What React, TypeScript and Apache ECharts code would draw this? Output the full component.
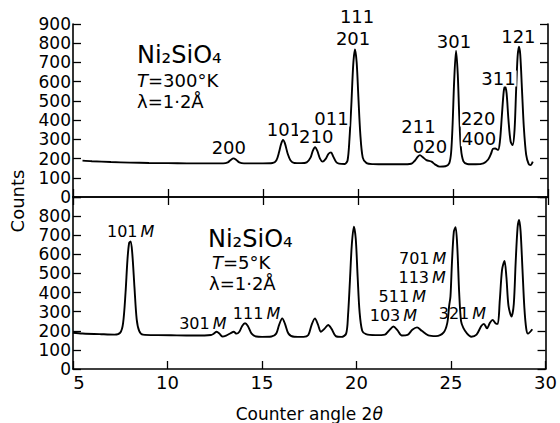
import React, { useEffect, useRef } from "react";
import * as echarts from "echarts";

// ---- data ----
const angleTicks = [5, 10, 15, 20, 25, 30];
const countTicksTop = [0, 100, 200, 300, 400, 500, 600, 700, 800, 900];

// T = 300 K scan: [2θ, counts]
const scan300K: [number, number][] = [
  [5.5, 189], [6, 186], [7, 182], [8, 179], [9, 177], [10, 176], [11, 175], [12, 175],
  [12.9, 175], [13.15, 180], [13.3, 193], [13.45, 201], [13.6, 192], [13.75, 180], [14.0, 175],
  [14.5, 175], [15, 175], [15.5, 177], [15.7, 190], [15.85, 235], [15.95, 275], [16.05, 297],
  [16.15, 280], [16.3, 225], [16.45, 190], [16.65, 177], [17.0, 176], [17.3, 180], [17.5, 205],
  [17.62, 240], [17.74, 259], [17.86, 240], [18.0, 200], [18.14, 184], [18.3, 198], [18.45, 225],
  [18.58, 232], [18.7, 210], [18.85, 182], [19.0, 174], [19.3, 172], [19.45, 190], [19.55, 300],
  [19.65, 480], [19.75, 690], [19.84, 768], [19.93, 700], [20.02, 520], [20.12, 330], [20.25, 205],
  [20.45, 176], [20.8, 171], [21.5, 170], [22.3, 170], [22.8, 173], [23.0, 190], [23.15, 210],
  [23.26, 218], [23.4, 208], [23.6, 192], [23.87, 184], [24.05, 170], [24.3, 158], [24.6, 160],
  [24.8, 175], [24.9, 230], [24.98, 380], [25.06, 600], [25.16, 761], [25.25, 640], [25.33, 420],
  [25.42, 250], [25.55, 185], [25.75, 172], [26.2, 170], [26.6, 175], [26.85, 195], [27.0, 225],
  [27.1, 250], [27.22, 252], [27.37, 245], [27.47, 290], [27.57, 420], [27.67, 550], [27.74, 577],
  [27.82, 540], [27.92, 400], [28.03, 290], [28.14, 270], [28.24, 350], [28.32, 550], [28.4, 730],
  [28.47, 782], [28.54, 740], [28.63, 560], [28.73, 360], [28.85, 220], [28.98, 172], [29.08, 166],
  [29.2, 184],
];

// T = 5 K scan: [2θ, counts]
const scan5K: [number, number][] = [
  [5.0, 190], [5.5, 186], [6.5, 182], [7.2, 180], [7.5, 190], [7.65, 240], [7.78, 400], [7.88, 570],
  [7.97, 660], [8.05, 667], [8.14, 600], [8.25, 430], [8.37, 260], [8.5, 200], [8.7, 180], [9.5, 177],
  [10.5, 176], [11.5, 175], [12.3, 178], [12.45, 185], [12.6, 195], [12.75, 185], [12.9, 170],
  [13.1, 175], [13.35, 188], [13.5, 195], [13.65, 185], [13.8, 195], [13.95, 225], [14.1, 239],
  [14.25, 225], [14.45, 185], [14.7, 170], [15.0, 168], [15.5, 170], [15.75, 185], [15.9, 230],
  [16.07, 265], [16.22, 235], [16.4, 185], [16.7, 169], [17.2, 168], [17.45, 178], [17.62, 230],
  [17.8, 265], [17.95, 235], [18.12, 195], [18.3, 210], [18.5, 230], [18.68, 210], [18.9, 172],
  [19.2, 168], [19.45, 185], [19.55, 280], [19.65, 460], [19.75, 650], [19.86, 745], [19.96, 680],
  [20.06, 480], [20.16, 300], [20.3, 200], [20.5, 182], [21.0, 177], [21.5, 180], [21.75, 205],
  [21.95, 222], [22.15, 205], [22.4, 175], [22.7, 178], [22.95, 205], [23.2, 218], [23.45, 200],
  [23.8, 176], [24.2, 172], [24.6, 190], [24.8, 240], [24.9, 330], [24.97, 380], [25.05, 560],
  [25.15, 720], [25.24, 742], [25.33, 640], [25.43, 400], [25.53, 250], [25.65, 215], [25.85, 185],
  [26.07, 169], [26.35, 180], [26.6, 225], [26.74, 236], [26.9, 213], [27.05, 240], [27.2, 257],
  [27.35, 240], [27.47, 236], [27.58, 360], [27.7, 520], [27.83, 565], [27.93, 480], [28.04, 330],
  [28.2, 274], [28.32, 340], [28.42, 560], [28.52, 740], [28.6, 780], [28.68, 720], [28.78, 520],
  [28.88, 320], [28.98, 210], [29.07, 185], [29.3, 208],
];

// reflection labels: [2θ, counts, text]
const labels300K: [number, number, string][] = [
  [13.2, 260, "200"], [16.1, 349, "101"], [17.8, 314, "210"], [18.6, 409, "011"],
  [19.74, 826, "201"], [19.95, 937, "111"], [23.18, 366, "211"], [23.79, 265, "020"],
  [25.05, 808, "301"], [26.33, 409, "220"], [26.37, 305, "400"], [27.39, 617, "311"],
  [28.44, 834, "121"],
];
const labels5K: [number, number, string][] = [
  [8.05, 719, "101"], [11.87, 239, "301"], [14.71, 292, "111"], [21.95, 280, "103"],
  [22.42, 378, "511"], [23.47, 478, "113"], [23.5, 580, "701"], [25.6, 292, "321"],
];

const FONT = "DejaVu Sans";
const INK = "#000";

export default function App() {
  const ref = useRef<HTMLDivElement>(null);
  useEffect(() => {
    document.body.style.margin = "0";
    const chart = echarts.init(ref.current!, undefined, { renderer: "svg" });
    const yMin = countTicksTop[0];
    const yMax = countTicksTop[countTicksTop.length - 1];
    const xMin = angleTicks[0];
    const xMax = angleTicks[angleTicks.length - 1];
    const axisLine = { show: true, lineStyle: { color: INK, width: 1.6 } };
    const tickIn = { show: true, inside: true, length: 8, lineStyle: { color: INK, width: 1.3 } };
    const xBase = {
      type: "value", min: xMin, max: xMax, interval: 5,
      axisLine, axisTick: tickIn, splitLine: { show: false },
    };
    const yBase = {
      type: "value", min: yMin, max: yMax, interval: 100,
      axisLine, axisTick: tickIn, splitLine: { show: false },
    };
    const yLabel = { show: true, color: INK, fontFamily: FONT, fontSize: 17, lineHeight: 16, margin: 2 };
    const labelRich = {
      n: { fontFamily: FONT, fontSize: 16, lineHeight: 15, color: INK },
      m: { fontFamily: FONT, fontSize: 16, lineHeight: 15, color: INK, fontStyle: "italic", padding: [0, 0, 0, 3] },
    };
    const itemHidden = { color: "rgba(0,0,0,0)", opacity: 1 };
    chart.setOption({
      animation: false,
      grid: [
        { left: 73, top: 24, width: 475, height: 173 },
        { left: 73, top: 197, width: 475, height: 172 },
      ],
      xAxis: [
        { ...xBase, gridIndex: 0, position: "bottom", axisLabel: { show: false } },
        { ...xBase, gridIndex: 0, position: "top", axisLabel: { show: false } },
        {
          ...xBase, gridIndex: 1, position: "bottom",
          axisLabel: {
            show: true, color: INK, fontFamily: FONT, fontSize: 18, lineHeight: 16, margin: 5,
            formatter: (v: number) => (v === xMin ? `{s|${v}}` : String(v)),
            rich: { s: { fontFamily: FONT, fontSize: 18, lineHeight: 16, color: INK, padding: [0, 0, 0, 12] } },
          },
          name: "{a|Counter angle 2}{b|θ}", nameLocation: "middle", nameGap: 36,
          nameTextStyle: {
            rich: {
              a: { fontFamily: FONT, fontSize: 17, color: INK },
              b: { fontFamily: FONT, fontSize: 17, color: INK, fontStyle: "italic" },
            },
          },
        },
      ],
      yAxis: [
        { ...yBase, gridIndex: 0, position: "left", axisLabel: yLabel },
        { ...yBase, gridIndex: 0, position: "right", axisLabel: { show: false } },
        {
          ...yBase, gridIndex: 1, position: "left",
          axisLabel: { ...yLabel, formatter: (v: number) => (v === yMax ? "" : String(v)) },
        },
        { ...yBase, gridIndex: 1, position: "right", axisLabel: { show: false } },
      ],
      series: [
        {
          type: "line", xAxisIndex: 0, yAxisIndex: 0, data: scan300K, showSymbol: false,
          smooth: 0.3, lineStyle: { color: INK, width: 1.9 }, z: 3,
        },
        {
          type: "line", xAxisIndex: 2, yAxisIndex: 2, data: scan5K, showSymbol: false,
          smooth: 0.3, lineStyle: { color: INK, width: 1.9 }, z: 3,
        },
        {
          type: "scatter", xAxisIndex: 0, yAxisIndex: 0, data: labels300K, symbolSize: 1,
          itemStyle: itemHidden, clip: false, z: 5,
          label: {
            show: true, position: "inside", color: INK, fontFamily: FONT, fontSize: 18, lineHeight: 16,
            formatter: (p: any) => p.data[2],
            backgroundColor: "#fff", padding: [0, 1],
          },
        },
        {
          type: "scatter", xAxisIndex: 2, yAxisIndex: 2, data: labels5K, symbolSize: 1,
          itemStyle: itemHidden, clip: false, z: 5,
          label: {
            show: true, position: "inside", color: INK,
            formatter: (p: any) => `{n|${p.data[2]}}{m|M}`, rich: labelRich,
          },
        },
      ],
      graphic: [
        {
          type: "text", x: 137, y: 55,
          style: { text: "Ni₂SiO₄", fontFamily: FONT, fontSize: 24, fill: INK, textVerticalAlign: "middle" },
        },
        {
          type: "text", x: 137, y: 80,
          style: {
            text: "{i|T}{r|=300°K}", fill: INK, textVerticalAlign: "middle",
            rich: {
              i: { fontFamily: FONT, fontSize: 18, fontStyle: "italic", fill: INK },
              r: { fontFamily: FONT, fontSize: 18, fill: INK },
            },
          },
        },
        {
          type: "text", x: 137, y: 101,
          style: { text: "λ=1·2Å", fontFamily: FONT, fontSize: 18, fill: INK, textVerticalAlign: "middle" },
        },
        {
          type: "text", x: 208, y: 239,
          style: { text: "Ni₂SiO₄", fontFamily: FONT, fontSize: 24, fill: INK, textVerticalAlign: "middle" },
        },
        {
          type: "text", x: 212, y: 262,
          style: {
            text: "{i|T}{r|=5°K}", fill: INK, textVerticalAlign: "middle",
            rich: {
              i: { fontFamily: FONT, fontSize: 18, fontStyle: "italic", fill: INK },
              r: { fontFamily: FONT, fontSize: 18, fill: INK },
            },
          },
        },
        {
          type: "text", x: 209, y: 283,
          style: { text: "λ=1·2Å", fontFamily: FONT, fontSize: 18, fill: INK, textVerticalAlign: "middle" },
        },
        {
          type: "text", x: 17, y: 201, rotation: Math.PI / 2,
          style: {
            text: "Counts", fontFamily: FONT, fontSize: 18, fill: INK,
            textAlign: "center", textVerticalAlign: "middle",
          },
        },
      ],
    });
    return () => chart.dispose();
  }, []);
  return (
    <div
      ref={ref}
      style={{ position: "fixed", left: 0, top: 0, width: 560, height: 423, background: "#fff" }}
    />
  );
}
